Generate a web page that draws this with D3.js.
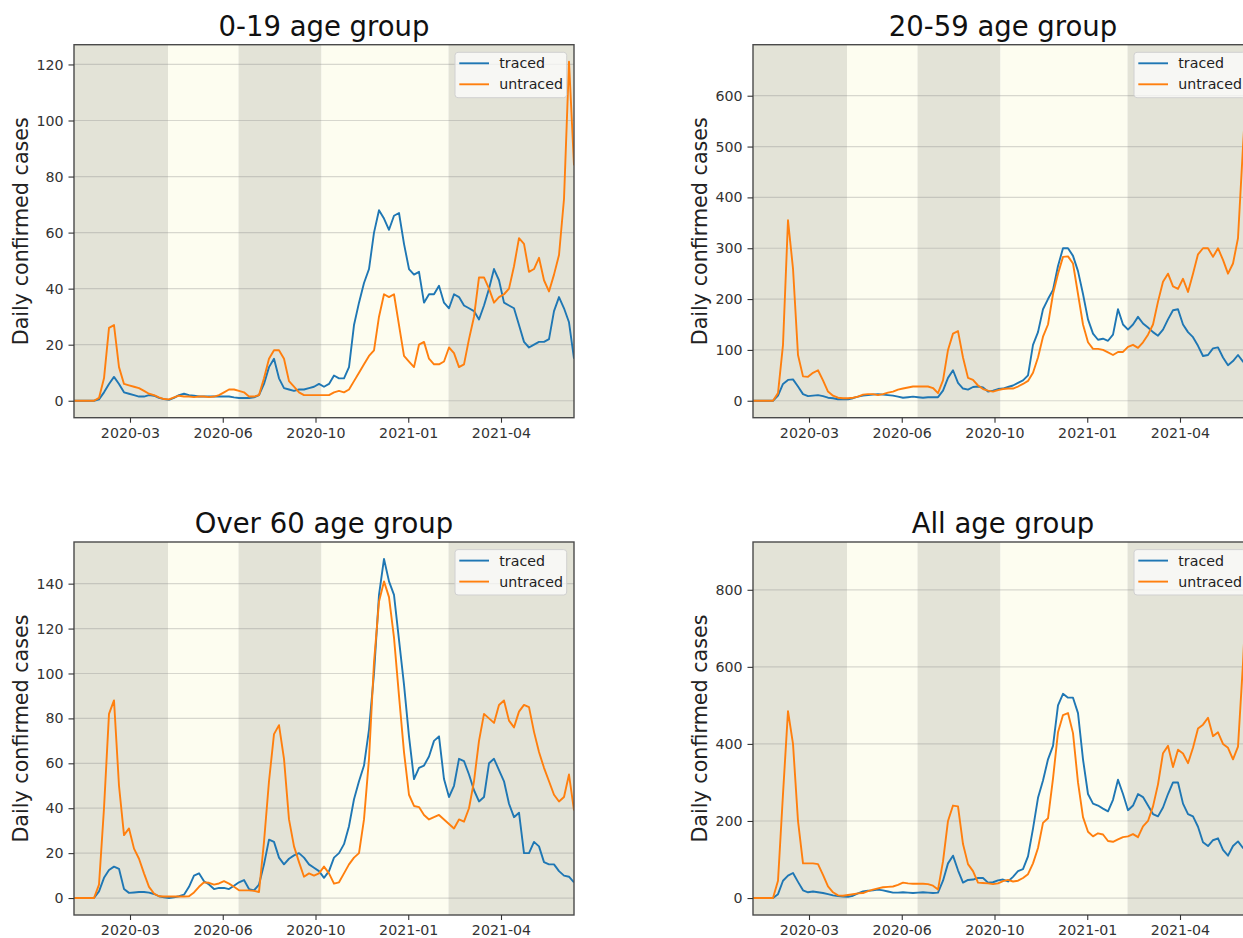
<!DOCTYPE html>
<html>
<head>
<meta charset="utf-8">
<script src="https://cdn.jsdelivr.net/npm/d3@7"></script>
<style>
  body { margin: 0; background: #fff; }
  svg { display: block; }
</style>
</head>
<body>
<div id="chart"></div>
<script>
// Day index along the x axis (one sample every 5 days)
const days = d3.range(0, 501, 5);

// x ticks (day index) and their labels
const xTickDays = [56, 148.75, 241.5, 334.25, 427];
const xTickLabels = ['2020-03', '2020-06', '2020-10', '2021-01', '2021-04'];

// Shaded periods (day index edges), alternating dark / light
const bandEdges = [0, 94, 164.5, 247.5, 374.5, 500];

// 0-19
const traced019 = [0,0,0,0,0,0.5,3,6,8.5,6,3,2.5,2,1.5,1.5,2,1.8,1,0.6,0.3,1,2,2.5,2,1.8,1.5,1.5,1.5,1.5,1.5,1.5,1.5,1.2,1,1,1,1.2,2,6,12,15,8,4.5,4,3.5,4,4,4.5,5,6,5,6,9,8,8,12,27,35,42,47,60,68,65,61,66,67,56,47,45,46,35,38,38,41,35,33,38,37,34,33,32,29,34,40,47,43,35,34,33,27,21,19,20,21,21,22,32,37,33,28,15];
const untraced019 = [0,0,0,0,0,1,8,26,27,12,6,5.5,5,4.5,3.5,2.5,2,1.2,0.6,0.5,1.2,1.8,1.5,1.5,1.3,1.5,1.5,1.3,1.5,2,3,4,4,3.5,3,1.5,1.5,2,8,15,18,18,15,7,5,3,2,2,2,2,2,2,3,3.5,3,4,7,10,13,16,18,30,38,37,38,27,16,14,12,20,21,15,13,13,14,19,17,12,13,22,30,44,44,40,35,37,38,40,48,58,56,46,47,51,43,39,45,52,72,121,84];

// 20-59
const traced2059 = [0,0,0,0,0,10,33,41,42,28,13,9,10,11,9,6,5,3,3,3,5,8,10,11,12,13,12,11,10,8,6,7,8,7,6,7,7,7,20,45,60,35,24,22,27,28,26,18,20,23,24,27,30,35,40,50,110,135,180,200,218,265,300,300,285,255,210,160,132,120,122,118,130,180,150,140,150,165,152,144,135,128,140,160,178,180,150,135,125,108,88,90,103,105,85,70,78,90,77,72,70];
const untraced2059 = [0,0,0,0,0,15,110,355,260,90,48,47,55,60,40,18,10,6,5,5,6,8,12,13,13,11,13,16,18,22,24,26,28,28,28,28,25,15,40,100,132,137,85,45,41,30,23,20,18,21,23,24,24,28,33,39,55,85,126,150,210,250,283,284,270,210,150,115,102,102,100,95,90,96,96,106,110,104,115,130,150,195,234,250,225,220,240,214,250,288,300,300,283,300,277,250,270,320,500,667,640];

// Over 60
const traced60 = [0,0,0,0,0,3,9,12.5,14,13,4,2.3,2.5,2.7,2.7,2.4,1.8,0.8,0.3,0,0.3,0.8,1.5,5,10,11,7.5,6,4,4.5,4.5,4,5.5,7,8,4,3.4,6,15,26,25,18,15,17.5,19,20,18,15,13.5,12,9,12,18,20,24,32,44,52,59,75,100,135,151,141,135,115,95,72,53,58,59,63,70,72,53,45,50,62,61,55,48,43,45,60,62,57,52,42,36,38,20,20,25,23,16,15,15,12,10,9.5,7];
const untraced60 = [0,0,0,0,0,6,40,82,88,50,28,31,22,17.5,11,5,2,0.8,0.7,0.7,0.7,0.7,0.7,0.8,2.5,5,7,6.8,6,6.5,7.5,6.4,5,3.5,3.4,3.4,3.2,2.7,25,52,73,77,62,35,23,16,9.5,11,10,11,14,11,6.4,7,11,15,18,20,35,62,105,132,141,134,116,90,65,46,41,40.5,37,35,36,37,35,33,31,35,34,40,52,70,82,80,78,86,88,79,76,83,86,85,74,65,58,52,46,43,45,55,39];

// All ages
const tracedAll = [0,0,0,0,0,10,45,58,65,42,20,15,17,15,13,10,7,5,4,3,6,12,17,19,20,22,20,17,14,14,15,14,13,14,15,14,13,14,45,90,110,72,40,47,48,52,52,40,41,46,48,43,55,70,75,108,180,260,305,360,395,500,530,520,520,480,360,270,245,240,232,225,255,307,270,228,240,270,262,240,218,212,235,270,300,300,245,218,212,185,145,135,150,155,125,110,135,147,130,125,120];
const untracedAll = [0,0,0,0,0,45,270,485,400,200,90,90,90,88,60,30,15,7,6,8,10,12,13,18,22,25,28,29,30,34,40,38,37,37,37,36,32,22,95,200,240,238,140,88,70,40,39,38,36,38,44,47,43,45,52,62,90,130,195,207,310,430,475,480,428,300,210,172,160,168,165,148,146,152,158,160,166,158,186,200,238,295,376,395,340,385,375,350,390,440,450,468,420,430,400,390,360,393,609,880,840];

// y tick values per panel
const yTicks019 = [0, 20, 40, 60, 80, 100, 120];
const yTicks2059 = [0, 100, 200, 300, 400, 500, 600];
const yTicks60 = [0, 20, 40, 60, 80, 100, 120, 140];
const yTicksAll = [0, 200, 400, 600, 800];

const panels = [
  { title: '0-19 age group', traced: traced019, untraced: untraced019, ticks: yTicks019, left: 74, top: 44.7 },
  { title: '20-59 age group', traced: traced2059, untraced: untraced2059, ticks: yTicks2059, left: 753, top: 44.7 },
  { title: 'Over 60 age group', traced: traced60, untraced: untraced60, ticks: yTicks60, left: 74, top: 542 },
  { title: 'All age group', traced: tracedAll, untraced: untracedAll, ticks: yTicksAll, left: 753, top: 542 }
];

const W = 1243, H = 938;
const pw = 500, ph = 373;
const FONT = '"DejaVu Sans", Verdana, sans-serif';
const TICK_FONT = '14.2px';
const colors = { traced: '#1f77b4', untraced: '#ff7f0e' };

const svg = d3.select('#chart').append('svg')
  .attr('width', W)
  .attr('height', H)
  .style('font-family', FONT);

panels.forEach((p, k) => drawPanel(p, k));

function drawPanel(p, k) {
  const g = svg.append('g').attr('transform', `translate(${p.left},${p.top})`);

  const x = d3.scaleLinear().domain([0, 500]).range([0, pw]);
  // matplotlib style 5% margins on y
  const ymax = d3.max(p.traced.concat(p.untraced));
  const ymin = 0;
  const pad = (ymax - ymin) * 0.05;
  const y = d3.scaleLinear().domain([ymin - pad, ymax + pad]).range([ph, 0]);

  const clipId = 'clip' + k;
  g.append('clipPath').attr('id', clipId)
    .append('rect').attr('width', pw).attr('height', ph);

  const body = g.append('g').attr('clip-path', `url(#${clipId})`);

  // shaded periods
  const bands = d3.pairs(bandEdges);
  body.selectAll('rect.band')
    .data(bands)
    .enter()
    .append('rect')
    .attr('class', 'band')
    .attr('x', d => x(d[0]))
    .attr('width', d => x(d[1]) - x(d[0]))
    .attr('y', 0)
    .attr('height', ph)
    .attr('fill', (d, i) => i % 2 === 0 ? '#e3e3d7' : '#fdfdf0');

  // horizontal grid
  body.selectAll('line.grid')
    .data(p.ticks)
    .enter()
    .append('line')
    .attr('x1', 0).attr('x2', pw)
    .attr('y1', d => y(d)).attr('y2', d => y(d))
    .attr('stroke', '#808080')
    .attr('stroke-opacity', 0.3)
    .attr('stroke-width', 1.2);

  // lines
  const line = d3.line()
    .x((d, i) => x(days[i]))
    .y(d => y(d));

  ['traced', 'untraced'].forEach(key => {
    body.append('path')
      .datum(p[key])
      .attr('d', line)
      .attr('fill', 'none')
      .attr('stroke', colors[key])
      .attr('stroke-width', 1.9)
      .attr('stroke-linejoin', 'round');
  });

  // frame
  g.append('rect')
    .attr('width', pw).attr('height', ph)
    .attr('fill', 'none')
    .attr('stroke', '#4a4a4a')
    .attr('stroke-width', 1.4);

  // y axis
  const yAxis = g.append('g')
    .call(d3.axisLeft(y).tickValues(p.ticks).tickSize(5.5).tickPadding(5));
  // x axis
  const xAxis = g.append('g')
    .attr('transform', `translate(0,${ph})`)
    .call(d3.axisBottom(x).tickValues(xTickDays).tickSize(5).tickPadding(5)
      .tickFormat((d, i) => xTickLabels[i]));

  [yAxis, xAxis].forEach(a => {
    a.select('.domain').remove();
    a.selectAll('line').attr('stroke', '#333').attr('stroke-width', 1.1);
    a.selectAll('text')
      .attr('fill', '#333')
      .style('font-family', FONT)
      .style('font-size', TICK_FONT);
  });

  // title
  g.append('text')
    .attr('x', pw / 2)
    .attr('y', -8.7)
    .attr('text-anchor', 'middle')
    .attr('fill', '#111')
    .style('font-size', '27.5px')
    .text(p.title);

  // y label
  g.append('text')
    .attr('transform', `translate(-46,${ph / 2}) rotate(-90)`)
    .attr('text-anchor', 'middle')
    .attr('fill', '#222')
    .style('font-size', '20.7px')
    .text('Daily confirmed cases');

  // legend
  const lg = g.append('g').attr('transform', `translate(${pw - 7.3 - 111.7},7.6)`);
  lg.append('rect')
    .attr('width', 111.7).attr('height', 45.4)
    .attr('rx', 3)
    .attr('fill', '#ffffff')
    .attr('fill-opacity', 0.72)
    .attr('stroke', '#d0d0d0')
    .attr('stroke-width', 1);

  ['traced', 'untraced'].forEach((key, i) => {
    const yy = 11 + i * 21;
    lg.append('line')
      .attr('x1', 4.3).attr('x2', 34)
      .attr('y1', yy).attr('y2', yy)
      .attr('stroke', colors[key])
      .attr('stroke-width', 1.9);
    lg.append('text')
      .attr('x', 44.3)
      .attr('y', yy)
      .attr('dy', '0.35em')
      .attr('fill', '#222')
      .style('font-size', TICK_FONT)
      .text(key);
  });
}
</script>
</body>
</html>
